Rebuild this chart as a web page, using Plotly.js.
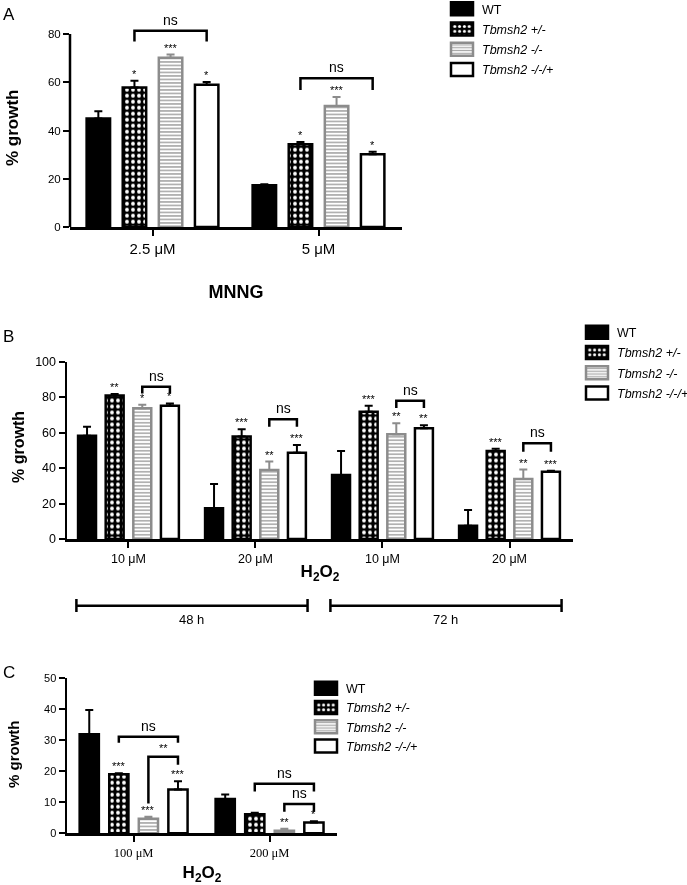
<!DOCTYPE html>
<html><head><meta charset="utf-8">
<script src="https://cdn.plot.ly/plotly-3.0.1.min.js"></script>
<style>body{margin:0;padding:0;background:#fff}#chart{width:687px;height:885px;filter:grayscale(1)}</style>
</head><body><div id="chart"></div><script>
// ---------- data ----------
const seriesNames = ['WT', '<i>Tbmsh2 +/-</i>', '<i>Tbmsh2 -/-</i>', '<i>Tbmsh2 -/-/+</i>'];

// Panel A: MNNG
const mnngDoses = ['2.5 μM', '5 μM'];
const mnngWT = [45.0, 17.3];
const mnngWTErr = [3.0, 0.4];
const mnngHet = [57.8, 34.3];
const mnngHetErr = [2.8, 0.9];
const mnngKO = [70.2, 50.2];
const mnngKOErr = [1.3, 3.7];
const mnngRes = [59.0, 30.2];
const mnngResErr = [1.1, 1.0];
const mnngStarsHet = ['*', '*'];
const mnngStarsKO = ['***', '***'];
const mnngStarsRes = ['*', '*'];
// brackets: [dose index, from series, to series, top, left foot, right foot, label]
const mnngBrackets = [[0, 1, 3, 81.3, 76.9, 76.9, 'ns'], [1, 1, 3, 61.7, 56.8, 56.8, 'ns']];

// Panel B: H2O2, 48 h and 72 h
const h2o2Doses = ['10 μM', '20 μM', '10 μM', '20 μM'];
const h2o2Times = ['48 h', '48 h', '72 h', '72 h'];
const h2o2WT = [58.2, 17.3, 36.0, 7.5];
const h2o2WTErr = [5.1, 13.7, 13.6, 8.8];
const h2o2Het = [80.9, 57.7, 71.7, 49.6];
const h2o2HetErr = [0.8, 4.1, 3.4, 1.2];
const h2o2KO = [73.6, 38.9, 59.0, 33.8];
const h2o2KOErr = [2.0, 4.7, 6.2, 5.3];
const h2o2Res = [75.1, 48.6, 62.4, 37.9];
const h2o2ResErr = [1.3, 4.4, 1.7, 0.5];
const h2o2StarsHet = ['**', '***', '***', '***'];
const h2o2StarsKO = ['*', '**', '**', '**'];
const h2o2StarsRes = ['*', '***', '**', '***'];
const h2o2Brackets = [[0, 2, 3, 85.8, 82.0, 82.0, 'ns'], [1, 2, 3, 67.4, 63.3, 63.3, 'ns'],
                      [2, 2, 3, 77.9, 73.8, 73.8, 'ns'], [3, 2, 3, 53.9, 49.2, 49.2, 'ns']];

// Panel C: high H2O2
const highDoses = ['100 μM', '200 μM'];
const highWT = [31.8, 11.0];
const highWTErr = [7.8, 1.5];
const highHet = [19.0, 6.1];
const highHetErr = [0.3, 0.5];
const highKO = [4.7, 0.85];
const highKOErr = [0.6, 0.6];
const highRes = [14.1, 3.5];
const highResErr = [2.6, 0.4];
const highStarsHet = ['***', ''];
const highStarsKO = ['***', '**'];
const highStarsRes = ['***', '*'];
const highBrackets = [[0, 1, 3, 31.0, 29.1, 29.1, 'ns'], [0, 2, 3, 24.6, 9.6, 22.0, '**'],
                      [1, 1, 3, 15.9, 13.4, 13.4, 'ns'], [1, 2, 3, 9.4, 6.9, 6.9, 'ns']];

// ---------- styles ----------
const FONT = 'Liberation Sans, Arial, sans-serif';
const GREY = '#8c8c8c';
const styles = [
  {color: '#000', line: '#000', pattern: {shape: ''}, err: '#000'},
  {color: '#000', line: '#000', pattern: {shape: '.', bgcolor: '#000', fgcolor: '#fff', size: 6, solidity: 0.32, fillmode: 'replace'}, err: '#000'},
  {color: '#fff', line: GREY, pattern: {shape: '-', bgcolor: '#fff', fgcolor: '#a8a8a8', size: 3.5, solidity: 0.45, fillmode: 'replace'}, err: GREY},
  {color: '#fff', line: '#000', pattern: {shape: ''}, err: '#000'}
];
const BARGAP = 0.13, GROUPGAP = 0.35;
const slot = (1 - BARGAP) / 4;
const offs = i => (i - 1.5) * slot;

const traces = [], shapes = [], annotations = [];

function panel(n, vals, errs, stars, brackets, xa, ya, legendId) {
  const xs = n.map((_, i) => i);
  vals.forEach((v, s) => {
    traces.push({
      type: 'bar', x: xs, y: v, name: seriesNames[s], xaxis: xa, yaxis: ya, legend: legendId,
      legendgroup: legendId + '_' + s,
      marker: {color: styles[s].color, line: {color: styles[s].line, width: 2.5}, pattern: styles[s].pattern},
      error_y: {type: 'data', symmetric: false, array: errs[s], arrayminus: v.map(() => 0),
                color: styles[s].err, thickness: 2, width: 4},
      hoverinfo: 'skip'
    });
  });
  stars.forEach((arr, k) => {
    const s = k + 1;
    arr.forEach((t, g) => {
      if (!t) return;
      annotations.push({xref: xa, yref: ya, x: g + offs(s), y: vals[s][g] + errs[s][g], text: t,
        showarrow: false, yanchor: 'bottom', yshift: -1, font: {family: FONT, size: 11, color: '#000'}});
    });
  });
  brackets.forEach(b => {
    const [g, a, c, top, fa, fc, label] = b;
    const x0 = g + offs(a), x1 = g + offs(c);
    shapes.push({type: 'path', xref: xa, yref: ya,
      path: `M${x0},${fa} L${x0},${top} L${x1},${top} L${x1},${fc}`,
      line: {color: '#000', width: 2.5}});
    annotations.push({xref: xa, yref: ya, x: (x0 + x1) / 2, y: top, text: label, showarrow: false,
      yanchor: 'bottom', yshift: 1, font: {family: FONT, size: label === 'ns' ? 14 : 11, color: '#000'}});
  });
}

panel(mnngDoses, [mnngWT, mnngHet, mnngKO, mnngRes], [mnngWTErr, mnngHetErr, mnngKOErr, mnngResErr],
      [mnngStarsHet, mnngStarsKO, mnngStarsRes], mnngBrackets, 'x', 'y', 'legend');
panel(h2o2Doses, [h2o2WT, h2o2Het, h2o2KO, h2o2Res], [h2o2WTErr, h2o2HetErr, h2o2KOErr, h2o2ResErr],
      [h2o2StarsHet, h2o2StarsKO, h2o2StarsRes], h2o2Brackets, 'x2', 'y2', 'legend2');
panel(highDoses, [highWT, highHet, highKO, highRes], [highWTErr, highHetErr, highKOErr, highResErr],
      [highStarsHet, highStarsKO, highStarsRes], highBrackets, 'x3', 'y3', 'legend3');

// Panel A y-axis line stops at 80
shapes.push({type: 'line', xref: 'x domain', yref: 'y', x0: 0, x1: 0, y0: 0, y1: 80, line: {color: '#000', width: 2.5}});

// time brackets under panel B
const timeSpans = [...new Set(h2o2Times)].map(t => {
  const idx = h2o2Times.map((v, i) => v === t ? i : -1).filter(i => i >= 0);
  return {label: t, from: Math.min(...idx) - 0.41, to: Math.max(...idx) + 0.41};
});
timeSpans.forEach(sp => {
  shapes.push({type: 'path', xref: 'x2', yref: 'paper',
    path: `M${sp.from},${1 - 599 / 885} L${sp.from},${1 - 612 / 885} M${sp.from},${1 - 605.7 / 885} L${sp.to},${1 - 605.7 / 885} M${sp.to},${1 - 599 / 885} L${sp.to},${1 - 612 / 885}`,
    line: {color: '#000', width: 2.5}});
  annotations.push({xref: 'x2', yref: 'paper', x: (sp.from + sp.to) / 2, y: 1 - 619 / 885, text: sp.label,
    showarrow: false, yanchor: 'middle', font: {family: FONT, size: 13, color: '#000'}});
});

// panel letters
[['A', 9, 14], ['B', 8, 336], ['C', 9, 672]].forEach(([t, x, y]) => annotations.push({
  xref: 'paper', yref: 'paper', x: x / 687, y: 1 - y / 885, text: t, showarrow: false,
  xanchor: 'center', yanchor: 'middle', font: {family: FONT, size: 17, color: '#000'}}));

// y-axis titles
[[13, 128, 17], [18, 447, 16], [13, 754, 15]].forEach(([x, y, sz]) => annotations.push({
  xref: 'paper', yref: 'paper', x: x / 687, y: 1 - y / 885, text: '<b>% growth</b>', textangle: -90,
  showarrow: false, xanchor: 'center', yanchor: 'middle', font: {family: FONT, size: sz, color: '#000'}}));

const axisBase = {showline: true, linewidth: 2.5, linecolor: '#000', ticks: 'outside', ticklen: 6, tickwidth: 2,
  tickcolor: '#000', showgrid: false, zeroline: false, fixedrange: true, automargin: false};

const legendBase = {xanchor: 'left', yanchor: 'top', bgcolor: 'rgba(0,0,0,0)', borderwidth: 0,
  itemclick: false, itemdoubleclick: false, font: {family: FONT, size: 12.5}};

const layout = {
  width: 687, height: 885, margin: {l: 0, r: 0, t: 0, b: 0, autoexpand: false},
  paper_bgcolor: '#fff', plot_bgcolor: 'rgba(0,0,0,0)',
  barmode: 'group', bargap: BARGAP, bargroupgap: GROUPGAP,
  font: {family: FONT, color: '#000'},
  xaxis: Object.assign({}, axisBase, {domain: [70 / 687, 402 / 687], anchor: 'y', range: [-0.497, 1.503],
    tickvals: [0, 1], ticktext: mnngDoses, tickfont: {family: FONT, size: 15},
    title: {text: '<b>MNNG</b>', font: {family: FONT, size: 18}, standoff: 30}}),
  yaxis: Object.assign({}, axisBase, {showline: false, domain: [1 - 227 / 885, 1 - 14.7 / 885], anchor: 'x', range: [0, 88],
    tickvals: [0, 20, 40, 60, 80], tickfont: {family: FONT, size: 11.5}}),
  xaxis2: Object.assign({}, axisBase, {domain: [67 / 687, 573 / 687], anchor: 'y2', range: [-0.484, 3.5],
    tickvals: [0, 1, 2, 3], ticktext: h2o2Doses, tickfont: {family: FONT, size: 12.5},
    title: {text: '<b>H<sub>2</sub>O<sub>2</sub></b>', font: {family: FONT, size: 17}, standoff: 1}}),
  yaxis2: Object.assign({}, axisBase, {domain: [1 - 539 / 885, 1 - 361.5 / 885], anchor: 'x2', range: [0, 100],
    tickvals: [0, 20, 40, 60, 80, 100], tickfont: {family: FONT, size: 12.5}}),
  xaxis3: Object.assign({}, axisBase, {domain: [67 / 687, 337 / 687], anchor: 'y3', range: [-0.49, 1.496],
    tickvals: [0, 1], ticktext: highDoses, tickfont: {family: 'Liberation Serif, Times New Roman, serif', size: 12.5},
    title: {text: '<b>H<sub>2</sub>O<sub>2</sub></b>', font: {family: FONT, size: 17}, standoff: 18}}),
  yaxis3: Object.assign({}, axisBase, {domain: [1 - 833.3 / 885, 1 - 677.7 / 885], anchor: 'x3', range: [0, 50],
    tickvals: [0, 10, 20, 30, 40, 50], tickfont: {family: FONT, size: 11}}),
  legend: Object.assign({}, legendBase, {x: 442 / 687, y: 1 + 6 / 885, tracegroupgap: 1}),
  legend2: Object.assign({}, legendBase, {x: 577 / 687, y: 1 - 317.5 / 885, tracegroupgap: 1}),
  legend3: Object.assign({}, legendBase, {x: 306 / 687, y: 1 - 673.5 / 885, tracegroupgap: 0}),
  shapes: shapes,
  annotations: annotations,
  showlegend: true
};

Plotly.newPlot('chart', traces, layout, {displayModeBar: false, staticPlot: true}).then(gd => {
  gd.querySelectorAll('g.legendpoints path').forEach(p => p.setAttribute('d', 'M11,6.5H-11V-6.5H11Z'));
});
</script></body></html>
